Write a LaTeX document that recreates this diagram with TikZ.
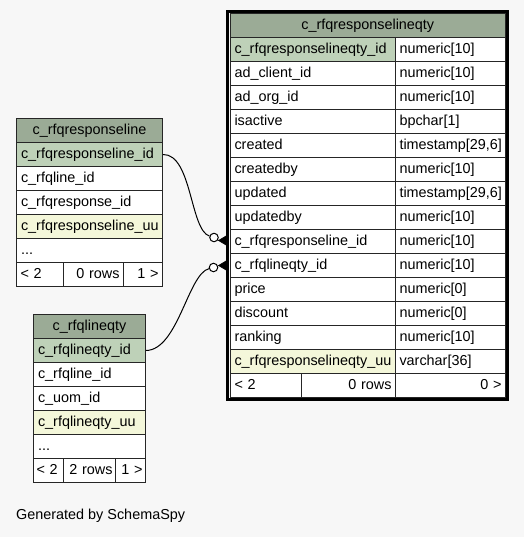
\documentclass[tikz,border=0pt]{standalone}
\usepackage{fontspec}
\setmainfont{Liberation Sans}
\definecolor{bgc}{HTML}{F7F7F7}
\definecolor{hdc}{HTML}{9BAB96}
\definecolor{pkc}{HTML}{BED1B8}
\definecolor{uuc}{HTML}{F4F7DA}
\newcommand\fs{\fontsize{14.4pt}{17pt}\selectfont}
\tikzset{
  cell/.style={draw=black!85, line width=1pt, anchor=north west, inner ysep=0pt,
    minimum height=24pt, text height=10.6pt, text depth=3.4pt, font=\fs},
  odot/.style={circle, draw=black, fill=white, line width=1pt, minimum size=8.5pt, inner sep=0pt},
  conn/.style={draw=black, line width=1pt},
  crow/.style={fill=black, draw=black, line width=0.6pt}
}
% #1 name, #2 x, #3 y, #4 width, #5 fill, #6 align, #7 text, #8 xsep
\newcommand\rc[8]{\node[cell, fill=#5, inner xsep=#8pt, text width=\the\dimexpr #4pt-#8pt-#8pt\relax, align=#6, minimum width=#4pt] (#1) at ({#2},{#3}) {#7};}
\begin{document}
\begin{tikzpicture}[x=1pt,y=-1pt]
\fill[bgc] (0,0) rectangle (524,537);
\useasboundingbox (0,0) rectangle (524,537);

% main table
\rc{mh}{229.5}{13}{275.5}{hdc}{center}{c\_rfqresponselineqty}{4.5}
\foreach \a/\b/\f [count=\i from 1] in {
  c\_rfqresponselineqty\_id/numeric[10]/pkc,
  ad\_client\_id/numeric[10]/white,
  ad\_org\_id/numeric[10]/white,
  isactive/bpchar[1]/white,
  created/{timestamp[29,6]}/white,
  createdby/numeric[10]/white,
  updated/{timestamp[29,6]}/white,
  updatedby/numeric[10]/white,
  c\_rfqresponseline\_id/numeric[10]/white,
  c\_rfqlineqty\_id/numeric[10]/white,
  price/numeric[0]/white,
  discount/numeric[0]/white,
  ranking/numeric[10]/white,
  c\_rfqresponselineqty\_uu/varchar[36]/uuc}{
  \rc{m\i}{229.5}{37+24*(\i-1)}{165.5}{\f}{left}{\a}{4.5}
  \rc{t\i}{395}{37+24*(\i-1)}{110}{white}{left}{\b}{4}
}
\rc{mf1}{229.5}{373}{71.5}{white}{left}{< 2}{4.5}
\rc{mf2}{301}{373}{94}{white}{right}{0 rows}{4}
\rc{mf3}{395}{373}{110}{white}{right}{0 >}{4}
\draw[line width=3pt] (mh.north west) ++(-2,-1.5) coordinate (mtl) rectangle ([shift={(1.5,1.5)}]mf3.south east);

% c_rfqresponseline
\rc{ah}{16}{118}{146}{hdc}{center}{c\_rfqresponseline}{4.5}
\rc{a1}{16}{142}{146}{pkc}{left}{c\_rfqresponseline\_id}{4.5}
\rc{a2}{16}{166}{146}{white}{left}{c\_rfqline\_id}{4.5}
\rc{a3}{16}{190}{146}{white}{left}{c\_rfqresponse\_id}{4.5}
\rc{a4}{16}{214}{146}{uuc}{left}{c\_rfqresponseline\_uu}{4.5}
\rc{a5}{16}{238}{146}{white}{left}{...}{4.5}
\rc{af1}{16}{262}{47}{white}{left}{< 2}{4}
\rc{af2}{63}{262}{60}{white}{right}{0 rows}{4}
\rc{af3}{123}{262}{39}{white}{right}{1 >}{4}

% c_rfqlineqty
\rc{bh}{33}{314}{112}{hdc}{center}{c\_rfqlineqty}{4.5}
\rc{b1}{33}{338}{112}{pkc}{left}{c\_rfqlineqty\_id}{4.5}
\rc{b2}{33}{362}{112}{white}{left}{c\_rfqline\_id}{4.5}
\rc{b3}{33}{386}{112}{white}{left}{c\_uom\_id}{4.5}
\rc{b4}{33}{410}{112}{uuc}{left}{c\_rfqlineqty\_uu}{4.5}
\rc{b5}{33}{434}{112}{white}{left}{...}{4.5}
\rc{bf1}{33}{458}{30}{white}{left}{< 2}{3}
\rc{bf2}{63}{458}{52}{white}{right}{2 rows}{3}
\rc{bf3}{115}{458}{30}{white}{right}{1 >}{3}

% connectors
\node[odot] (o1) at (214,237.5) {};
\node[odot] (o2) at (213.5,267.5) {};
\coordinate (k1) at ([shift={(-11,-1)}]m9.west);
\coordinate (k1a) at ([shift={(-1,-7)}]m9.west);
\coordinate (k1b) at ([shift={(-1,5)}]m9.west);
\coordinate (k2) at ([shift={(-11,0)}]m10.west);
\coordinate (k2a) at ([shift={(-1,-6)}]m10.west);
\coordinate (k2b) at ([shift={(-1,6)}]m10.west);
\draw[conn] (a1.east) .. controls (192,154) and (190,230) .. (o1);
\draw[conn] (b1.east) .. controls (178,350) and (188,274) .. (o2);
\draw[conn] (o1) -- (k1);
\draw[conn] (o2) -- (k2);
\filldraw[crow] (k1) -- (k1a) -- (k1b) -- cycle;
\filldraw[crow] (k2) -- (k2a) -- (k2b) -- cycle;

\node[anchor=west, inner sep=0pt, font=\fs] (gen) at (16,516) {Generated by SchemaSpy};
\end{tikzpicture}
\end{document}
